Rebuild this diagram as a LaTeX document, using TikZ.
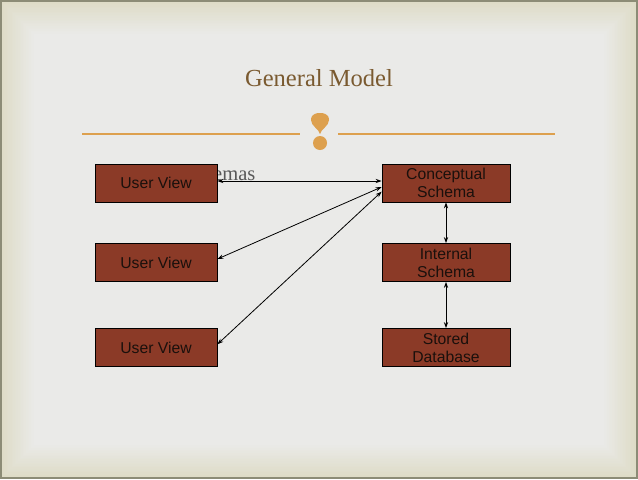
\documentclass[tikz,border=0pt]{standalone}
\usepackage{fontspec}
\setmainfont{Liberation Serif}
\newfontfamily\boxfont{Liberation Sans}
\usepackage{tikz}
\usetikzlibrary{arrows.meta}
\definecolor{slidebg}{HTML}{EAEAE8}
\definecolor{slideedge}{HTML}{DEDCC7}
\definecolor{slideframe}{HTML}{8C8C76}
\definecolor{titlebrown}{HTML}{7A5A30}
\definecolor{ornament}{HTML}{DDA04E}
\definecolor{boxred}{HTML}{8B3A27}
\definecolor{boxtext}{HTML}{1A100C}

\begin{document}
\begin{tikzpicture}[x=0.75pt,y=-0.75pt,level box/.style={rectangle,draw=black,line width=0.6pt,fill=boxred,text=boxtext,font=\boxfont\fontsize{11.8}{13.6}\selectfont,align=center,inner sep=0pt,minimum height=28.5pt}]
\tikzstyle{view box} = [level box,minimum width=91.5pt]
\tikzstyle{schema box} = [level box,minimum width=96pt]
\tikzstyle{map arrow} = [draw=black,line width=0.6pt,{Stealth[length=4.5pt,width=3.2pt]}-{Stealth[length=4.5pt,width=3.2pt]}]

\useasboundingbox (0,0) rectangle (638,479);

% Background
\fill[slideedge] (0,0) rectangle (638,479);
\foreach \i in {0,...,20}
  \fill[slideedge!\the\numexpr100-\i*5\relax!slidebg] (2+\i*1.6,2+\i*1.6) rectangle (636-\i*1.6,477-\i*1.6);
\draw[slideframe,line width=1.5] (0.75,0.75) rectangle (637.25,478.25);

% Title
\node[text=titlebrown,font=\fontsize{18.4}{22}\selectfont] (title) at (319,78) {General Model};

% Divider
\coordinate (divl) at (82,134);
\coordinate (divlend) at (300,134);
\coordinate (divr) at (338,134);
\coordinate (divrend) at (555,134);
\draw[ornament,line width=1.1] (divl) -- (divlend);
\draw[ornament,line width=1.1] (divr) -- (divrend);
\fill[ornament] (320,134) .. controls (319,129) and (311,126) .. (311,120) .. controls (311,113) and (318,113) .. (320,113) .. controls (322,113) and (329,113) .. (329,120) .. controls (329,126) and (321,129) .. (320,134) -- cycle;
\fill[ornament] (320,143) circle[radius=7];

% Leftover text
\node[text=black!65,font=\fontsize{15.4}{18}\selectfont,anchor=east,inner sep=0pt] (leftover) at (255.7,176) {emas};

% User views
\node[view box] (uv1) at (156,183) {User View};
\node[view box] (uv2) at (156,262.5) {User View};
\node[view box] (uv3) at (156,347.5) {User View};

% Schemas
\node[schema box] (cs) at (446,183) {Conceptual\\Schema};
\node[schema box] (is) at (446,262.5) {Internal\\Schema};
\node[schema box] (sd) at (446,347.5) {Stored\\Database};

% Mappings
\draw[map arrow] ([yshift=1.5pt]uv1.east) -- ([yshift=1.5pt]cs.west);
\draw[map arrow] ([yshift=2.6pt]uv2.east) -- ([yshift=-3pt]cs.west);
\draw[map arrow] ([yshift=2.4pt]uv3.east) -- ([yshift=-6.5pt]cs.west);
\draw[map arrow] (cs.south) -- (is.north);
\draw[map arrow] (is.south) -- (sd.north);

\end{tikzpicture}
\end{document}
